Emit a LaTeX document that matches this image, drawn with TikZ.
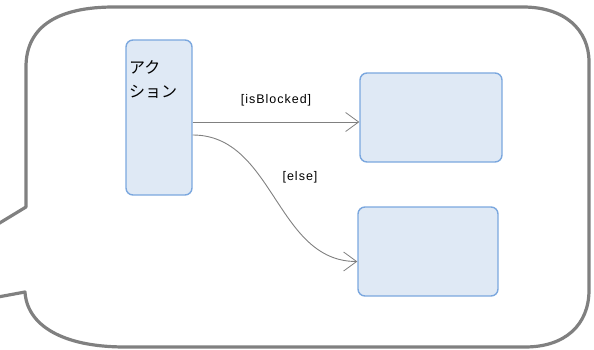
\documentclass[tikz,border=0pt]{standalone}
\usepackage{fontspec}
\setmainfont{Liberation Sans}
\newfontfamily\jpfont{Noto Sans CJK JP}
\usepackage{tikz}
\usetikzlibrary{arrows.meta}
\definecolor{boxfill}{HTML}{DFE9F5}
\definecolor{boxline}{HTML}{7BA7DE}
\definecolor{bubble}{HTML}{808080}
\tikzset{>=latex}
\tikzset{
  actbox/.style={draw=boxline, fill=boxfill, line width=1.4pt, rounded corners=7pt, inner sep=0pt},
  flow/.style={draw=bubble, line width=0.9pt, -{Straight Barb[length=13pt,width=19pt,line width=0.8pt]}},
  guard/.style={font=\fontsize{12.5}{14}\selectfont\addfontfeatures{LetterSpace=8}, inner sep=1pt}
}

\begin{document}
\begin{tikzpicture}[x=1pt, y=-1pt]
\useasboundingbox (0,0) rectangle (594,350);

% bubble
    \draw[bubble, line width=3.2pt, line join=round]
      (-2,224) -- (26,207) -- (26,67) .. controls (26,25) and (60,7) .. (114,7)
      -- (523,7) .. controls (565,7) and (589,30) .. (589,62)
      -- (589,290) .. controls (589,325) and (565,347) .. (525,347)
      -- (125,347) .. controls (62,347) and (27,325) .. (25,292) -- (-2,297);

% nodes
    \node[actbox, minimum width=66pt, minimum height=155pt] (action) at (159,117.5) {};
    \node[anchor=north west, align=left, inner sep=0pt, font=\jpfont\fontsize{16}{24}\selectfont]
      (actlbl) at (129,60) {アク\\ション};

    \node[actbox, minimum width=142pt, minimum height=89pt] (yes) at (431,117.5) {};
    \node[actbox, minimum width=140pt, minimum height=89pt] (no) at (428,251.5) {};

% transitions
    \draw[flow] ([yshift=-4.5pt]action.east) -- ([yshift=-4.5pt]yes.west);
    \draw[flow] ([yshift=-17.5pt]action.east) to[out=0, in=180] ([yshift=-10pt]no.west);

    \node[guard] (lblyes) at (276,100) {[isBlocked]};
    \node[guard] (lblno) at (300,177) {[else]};

\end{tikzpicture}
\end{document}
